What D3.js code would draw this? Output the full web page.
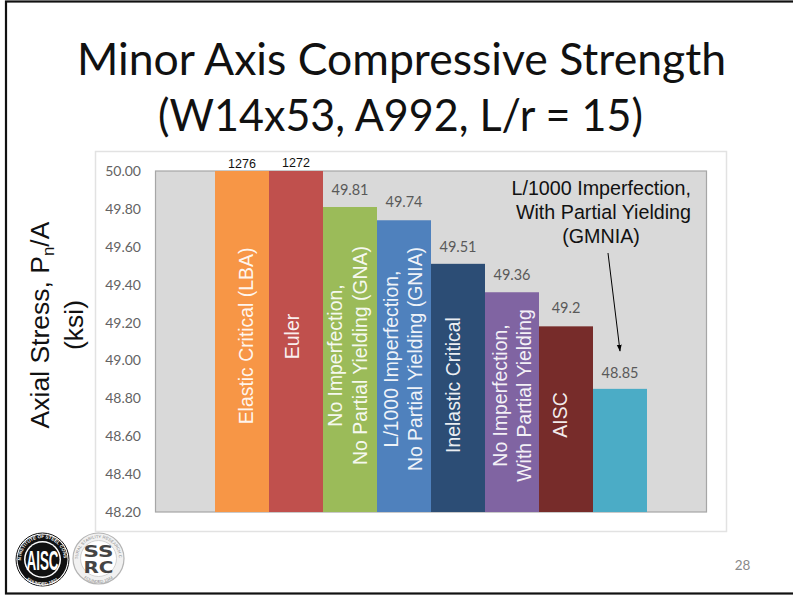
<!DOCTYPE html>
<html><head><meta charset="utf-8">
<script src="https://cdnjs.cloudflare.com/ajax/libs/d3/7.9.0/d3.min.js"></script>
<style>html,body{margin:0;padding:0;background:#fff}svg{display:block}text{font-family:"Liberation Sans",Arial,sans-serif}</style>
</head><body><svg id="c" width="793" height="597"></svg>
<script>
const titleLines = ["Minor Axis Compressive Strength", "(W14x53, A992, L/r = 15)"];
const categories = ["Elastic Critical (LBA)", "Euler", "No Imperfection,|No Partial Yielding (GNA)", "L/1000 Imperfection,|No Partial Yielding (GNIA)", "Inelastic Critical", "No Imperfection,|With Partial Yielding", "AISC", "L/1000 Imperfection,|With Partial Yielding (GMNIA)"];
const values = [1276, 1272, 49.81, 49.74, 49.51, 49.36, 49.18, 48.85];
const valueLabels = ["1276", "1272", "49.81", "49.74", "49.51", "49.36", "49.2", "48.85"];
const colors = ["#F79646", "#C0504D", "#9BBB59", "#4F81BD", "#2C4D75", "#8064A2", "#772C2A", "#4BACC6"];
const ticks = [48.2, 48.4, 48.6, 48.8, 49.0, 49.2, 49.4, 49.6, 49.8, 50.0];
const calloutLines = ["L/1000 Imperfection,", "With Partial Yielding", "(GMNIA)"];

const svg = d3.select("#c");
const calibri = "Lato,Carlito,sans-serif";
svg.append("defs").html('<marker id="ah" viewBox="0 0 10 10" refX="9" refY="5" markerWidth="7" markerHeight="7" orient="auto"><path d="M0,1.5L10,5L0,8.5z" fill="#000"/></marker>'
 +'<path id="ringA" d="M-21.5,0A21.5,21.5 0 1 1 21.5,0"/><path id="ringB" d="M-26,0A26,26 0 0 0 26,0"/>'
 +'<path id="ringC" d="M-20.5,0A20.5,20.5 0 1 1 20.5,0"/><path id="ringD" d="M-24.5,0A24.5,24.5 0 0 0 24.5,0"/>');

// slide frame
svg.append("rect").attr("x",6).attr("y",1.5).attr("width",800).attr("height",592).attr("fill","#fff").attr("stroke","#111").attr("stroke-width",2.2);

// title
svg.selectAll(".t").data(titleLines).join("text").attr("class","t").attr("x",(d,i)=>[401.5,400.5][i]).attr("y",(d,i)=>[75,131][i])
  .attr("text-anchor","middle").attr("font-size",44.6).style("font-family",calibri).attr("fill","#111")
  .attr("textLength",(d,i)=>[649,485][i]).attr("lengthAdjust","spacingAndGlyphs").text(d=>d);

// card and plot
svg.append("rect").attr("x",95.5).attr("y",151.5).attr("width",631).attr("height",380).attr("fill","#fff").attr("stroke","#e2e2e2").attr("stroke-width",1.5);
const y = d3.scaleLinear().domain([48.2,50]).range([512,171]).clamp(true);
const x = d3.scaleBand().domain(categories).range([215,647]);
svg.append("rect").attr("x",155.5).attr("y",171).attr("width",551).attr("height",341).attr("fill","#D9D9D9").attr("stroke","#A6A6A6").attr("stroke-width",1.2);

// axis
const ax = svg.append("g").attr("transform","translate(155,0)").call(d3.axisLeft(y).tickValues(ticks).tickFormat(d3.format(".2f")).tickSize(0).tickPadding(14));
ax.select(".domain").remove();
ax.selectAll("text").style("font-family",calibri).attr("font-size",14).attr("fill","#636363");

// bars
svg.selectAll(".b").data(categories).join("rect").attr("class","b").attr("x",d=>x(d)).attr("width",x.bandwidth())
  .attr("y",(d,i)=>y(values[i])).attr("height",(d,i)=>512-y(values[i])).attr("fill",(d,i)=>colors[i]);

// value labels
const valueBaselines = [167.5,166.5,195,207,252,280,313,378];
svg.selectAll(".v").data(categories).join("text").attr("class","v").attr("x",d=>x(d)+x.bandwidth()/2)
  .attr("y",(d,i)=>valueBaselines[i])
  .attr("text-anchor","middle").attr("font-size",(d,i)=>i<2?12.5:14.5)
  .attr("fill",(d,i)=>i<2?"#111":"#595959")
  .style("font-family",(d,i)=>i<2?"Liberation Sans":calibri)
  .text((d,i)=>valueLabels[i]);

// in-bar labels (the last bar's label is the callout)
const labelCenters = [336, 336.5, 355.5, 359, 385, 395.5, 415];
const labelBaselines = [[253],[299],[342,367],[398,422],[460],[507,531],[567]];
categories.slice(0,7).forEach((c,i)=>{
  c.split("|").forEach((p,j)=>{
    svg.append("text").attr("transform",`translate(${labelBaselines[i][j]},${labelCenters[i]}) rotate(-90)`)
      .attr("text-anchor","middle").attr("font-size",19.4).attr("fill","#fff").attr("fill-opacity",.92).text(p);
  });
});

// callout
svg.selectAll(".c").data(calloutLines).join("text").attr("class","c")
  .attr("x",(d,i)=>i<2?691:601).attr("y",(d,i)=>195+i*24)
  .attr("text-anchor",(d,i)=>i<2?"end":"middle").attr("font-size",19.7).attr("fill","#111").text(d=>d);
svg.append("line").attr("x1",608).attr("y1",253).attr("x2",620).attr("y2",351).attr("stroke","#000").attr("stroke-width",1).attr("marker-end","url(#ah)");

// y title
const t1 = svg.append("text").attr("transform","translate(49,325) rotate(-90)").attr("text-anchor","middle").attr("font-size",26.5).attr("fill","#111");
t1.append("tspan").text("Axial Stress, P");
t1.append("tspan").attr("font-size",17).attr("dy",5).text("n");
t1.append("tspan").attr("dy",-5).text("/A");
svg.append("text").attr("transform","translate(83,325) rotate(-90)").attr("text-anchor","middle").attr("font-size",26.5).attr("fill","#111").text("(ksi)");

// page number
svg.append("text").attr("x",742.5).attr("y",570).attr("text-anchor","middle").attr("font-size",13.5).style("font-family",calibri).attr("fill","#8a8a8a").text("28");

// logos
const g1 = svg.append("g").attr("transform","translate(42.5,559.5)");
g1.append("circle").attr("r",26.5).attr("fill","#fff").attr("stroke","#111").attr("stroke-width",1);
g1.append("circle").attr("r",25).attr("fill","#111");
g1.append("circle").attr("r",18.5).attr("fill","#fff");
g1.append("circle").attr("r",17).attr("fill","#111");
g1.append("text").attr("font-size",4.6).attr("font-weight",700).attr("fill","#fff").append("textPath").attr("href","#ringA").attr("startOffset","50%").attr("text-anchor","middle").text("AMERICAN INSTITUTE OF STEEL CONSTRUCTION");
g1.append("text").attr("font-size",4.6).attr("font-weight",700).attr("fill","#fff").append("textPath").attr("href","#ringB").attr("startOffset","50%").attr("text-anchor","middle").text("FOUNDED 1921");
g1.append("text").attr("y",10).attr("text-anchor","middle").attr("font-size",28).attr("font-weight",700).attr("fill","#fff").attr("textLength",32).attr("lengthAdjust","spacingAndGlyphs").text("AISC");
const g2 = svg.append("g").attr("transform","translate(98.5,558.5)");
g2.append("circle").attr("r",25.5).attr("fill","#f1f1f1").attr("stroke","#b4b4b4").attr("stroke-width",1.2);
g2.append("circle").attr("r",18).attr("fill","#fff").attr("stroke","#c8c8c8").attr("stroke-width",.8);
g2.append("text").attr("font-size",4.2).attr("fill","#8a8a8a").append("textPath").attr("href","#ringC").attr("startOffset","50%").attr("text-anchor","middle").text("STRUCTURAL STABILITY RESEARCH COUNCIL");
g2.append("text").attr("font-size",4.2).attr("fill","#8a8a8a").append("textPath").attr("href","#ringD").attr("startOffset","50%").attr("text-anchor","middle").text("FOUNDED 1944");
g2.append("text").attr("y",-1.5).attr("text-anchor","middle").attr("font-size",15).attr("font-weight",700).style("font-family","DejaVu Sans").attr("fill","#444").attr("textLength",30).attr("lengthAdjust","spacingAndGlyphs").text("SS");
g2.append("text").attr("y",14.5).attr("text-anchor","middle").attr("font-size",15).attr("font-weight",700).style("font-family","DejaVu Sans").attr("fill","#444").attr("textLength",30).attr("lengthAdjust","spacingAndGlyphs").text("RC");
</script></body></html>
